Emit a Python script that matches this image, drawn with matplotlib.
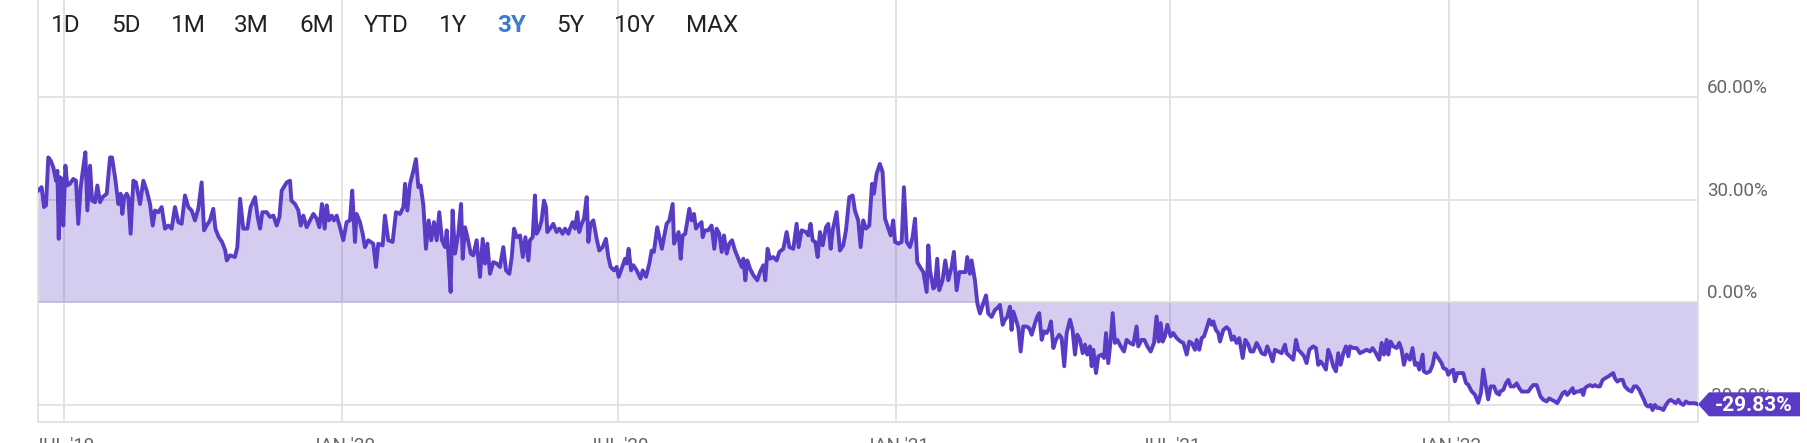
import matplotlib
matplotlib.use("Agg")
import matplotlib.pyplot as plt
import matplotlib.dates as mdates
from matplotlib.patches import Polygon
from matplotlib.transforms import IdentityTransform
import numpy as np
import datetime as dt

plt.rcParams['font.family'] = ['Roboto', 'DejaVu Sans']

# 3Y total return (days counted from 2019-06-14)
start = dt.date(2019, 6, 14)

days = [
    # Jun 2019 - Apr 2020
    0.0, 2.4, 4.0, 5.3, 6.8, 8.4, 10.1, 11.9, 12.8, 13.7,
    14.5, 15.9, 16.7, 18.1, 19.4, 21.1, 23.3, 25.1, 26.6, 28.2,
    29.9, 31.3, 32.6, 34.4, 35.7, 37.7, 39.2, 41.0, 42.7, 45.4,
    47.6, 48.9, 50.9, 53.1, 54.6, 55.7, 57.0, 58.6, 59.7, 61.2,
    63.0, 64.7, 67.4, 69.6, 71.8, 74.0, 75.8, 77.3, 79.5, 81.7,
    83.9, 86.1, 88.3, 90.5, 92.7, 94.9, 97.1, 99.3, 101.5, 103.7,
    105.9, 108.1, 109.7, 111.4, 113.6, 115.8, 117.2, 119.4, 121.6, 123.7,
    124.7, 126.8, 130.1, 131.7, 133.5, 135.6, 138.3, 140.5, 143.4, 145.1,
    146.7, 148.2, 151.1, 153.3, 155.5, 157.7, 159.5, 161.0, 164.3, 166.5,
    167.4, 169.8, 172.0, 173.6, 175.3, 177.5, 179.7, 181.9, 184.1, 185.9,
    187.6, 189.4, 190.7, 192.2, 194.0, 195.5, 197.3, 199.5, 201.7, 203.9,
    206.1, 207.6, 209.4, 210.5, 212.7, 214.5, 216.0, 218.2, 221.5, 223.3,
    224.8, 227.7, 229.2, 231.4, 234.3, 236.5, 239.2, 241.4, 242.5, 244.0,
    245.8, 248.0, 249.7, 251.3, 252.8, 254.6, 256.3, 258.1, 259.8, 261.6,
    263.4, 265.1, 266.9, 268.9, 270.0, 271.1, 272.6, 273.9, 275.5, 277.7,
    279.5, 280.6, 282.1, 283.7, 285.9, 287.6, 289.8, 292.0, 293.8, 295.3,
    296.9, 298.6, 300.8, 303.0, 305.2, 307.4, 309.2, 311.4, 313.0, 314.5,
    316.3, 318.5, 320.3, 322.0, 324.0,
    # May 2020 - Mar 2021
    325.0, 326.8, 328.3, 329.4, 331.2, 332.7, 334.3, 335.6, 336.5, 338.3,
    340.4, 342.6, 344.4, 346.6, 348.2, 350.4, 351.5, 353.2, 354.8, 356.3,
    357.6, 359.2, 360.7, 362.5, 363.6, 365.1, 366.9, 369.1, 370.8, 373.0,
    375.2, 376.8, 378.3, 380.5, 382.3, 383.6, 385.6, 387.8, 388.9, 390.2,
    391.8, 393.3, 395.5, 398.1, 399.5, 401.7, 403.9, 405.4, 406.9, 409.1,
    410.5, 412.2, 413.6, 415.3, 417.1, 419.3, 420.2, 421.9, 423.2, 424.6,
    425.9, 427.6, 430.3, 431.8, 433.4, 434.7, 436.2, 438.4, 439.1, 440.6,
    442.8, 445.0, 446.8, 448.3, 450.1, 451.7, 453.2, 455.0, 456.7, 458.5,
    460.5, 462.7, 464.9, 466.0, 467.3, 468.6, 470.4, 472.6, 475.2, 477.0,
    479.2, 480.5, 482.0, 483.6, 485.8, 488.0, 489.8, 492.4, 494.6, 496.4,
    499.0, 501.2, 502.5, 504.5, 507.4, 508.9, 510.4, 511.8, 513.5, 515.1,
    516.6, 518.4, 520.6, 522.1, 523.7, 525.0, 527.6, 529.8, 532.0, 533.8,
    536.0, 538.2, 539.7, 541.9, 543.5, 545.2, 547.0, 549.2, 551.0, 552.3,
    554.0, 556.2, 558.0, 559.6, 561.8, 563.3, 565.0, 566.2, 568.4, 570.6,
    572.1, 573.9, 576.1, 577.8, 579.4, 580.9, 582.7, 584.9, 587.1, 588.2,
    589.3, 591.5, 592.6, 594.1, 595.4, 597.6, 599.4, 601.4, 603.6, 605.1,
    606.9, 608.7, 611.3, 612.8, 613.9, 615.7, 616.8, 619.0, 620.6, 622.3,
    624.5, 626.3, 627.8, 630.0, 632.2, 634.4,
    # Mar 2021 - Feb 2022
    635.5, 637.3, 638.8, 640.4, 642.1, 643.2, 644.3, 646.1, 647.7, 649.2,
    650.9, 653.2, 654.9, 656.5, 658.7, 660.2, 661.5, 663.1, 664.6, 666.4,
    668.1, 669.2, 670.8, 672.5, 674.7, 676.3, 678.0, 679.6, 681.8, 683.5,
    685.1, 686.6, 688.4, 690.2, 691.7, 693.2, 695.0, 696.1, 697.2, 699.0,
    700.5, 702.7, 704.3, 705.6, 707.1, 708.7, 710.0, 711.5, 713.1, 715.3,
    717.5, 719.2, 721.4, 723.6, 725.8, 726.9, 729.1, 730.9, 732.9, 735.1,
    737.3, 739.0, 740.4, 741.7, 743.0, 744.5, 746.1, 748.3, 750.0, 752.3,
    754.9, 756.7, 758.9, 760.6, 762.2, 764.4, 765.5, 767.2, 768.8, 770.3,
    772.1, 773.8, 775.4, 776.5, 778.2, 779.8, 780.9, 783.1, 785.3, 787.0,
    788.6, 790.1, 791.9, 793.6, 795.9, 797.6, 799.6, 801.1, 802.9, 805.1,
    806.9, 808.4, 810.6, 812.1, 813.9, 815.7, 817.2, 819.4, 821.6, 823.8,
    824.9, 827.1, 829.3, 831.1, 832.6, 834.8, 836.4, 838.1, 839.9, 842.5,
    844.3, 845.8, 847.4, 849.1, 850.9, 852.4, 854.0, 855.7, 857.5, 859.0,
    860.6, 862.4, 864.1, 865.7, 866.8, 869.0, 871.2, 873.4, 875.6, 877.8,
    880.0, 881.7, 883.9, 886.1, 887.7, 889.2, 891.0, 892.1, 893.6, 895.4,
    897.6, 899.3, 900.9, 902.4, 904.2, 906.4, 908.1, 909.7, 911.2, 912.6,
    914.8, 915.6, 917.4, 919.6, 921.4, 922.9, 925.1, 927.3, 928.4, 930.6,
    931.7, 933.3, 935.0, 936.1, 937.7, 939.9, 941.6, 943.4, 944.9, 947.1,
    949.3, 951.5, 953.3, 954.8, 956.6, 958.1, 959.7, 961.9, 963.6, 965.4,
    # Feb 2022 - Jun 2022
    965.9, 968.1, 969.8, 971.4, 972.9, 975.1, 976.9, 978.6, 980.2, 982.4,
    984.6, 986.1, 987.9, 990.1, 991.2, 992.7, 994.5, 996.7, 998.4, 1000.0,
    1002.2, 1003.7, 1005.5, 1007.3, 1008.8, 1010.3, 1012.1, 1013.9, 1014.7, 1016.5,
    1018.3, 1019.8, 1020.9, 1022.0, 1023.5, 1025.3, 1027.1, 1028.6, 1030.1, 1031.9,
    1033.7, 1035.4, 1037.4, 1039.0, 1040.7, 1041.8, 1043.4, 1045.1, 1046.9, 1048.4,
    1050.6, 1052.8, 1054.4, 1056.1, 1057.9, 1059.4, 1061.0, 1062.3, 1063.8, 1065.4,
    1066.7, 1068.2, 1069.8, 1071.5, 1073.8, 1075.5, 1077.1, 1078.6, 1080.4, 1082.1,
    1083.7, 1085.2, 1087.0, 1088.7, 1090.5, 1092.5, 1094.7, 1096.7,
]

pct = [
    32.6, 33.6, 27.8, 28.3, 42.3, 41.4, 39.4, 35.5, 38.4, 18.5,
    36.5, 36.0, 22.4, 39.9, 34.1, 34.6, 36.0, 35.5, 22.9, 33.6,
    39.4, 43.8, 26.8, 39.9, 29.7, 29.2, 34.1, 29.2, 30.7, 31.7,
    42.3, 42.3, 36.5, 28.7, 31.7, 25.8, 30.7, 31.7, 30.7, 20.0,
    35.5, 35.0, 28.7, 35.5, 32.6, 28.7, 22.4, 26.8, 26.3, 27.8,
    21.5, 22.4, 21.5, 27.8, 23.4, 22.9, 31.2, 27.8, 26.8, 23.9,
    27.3, 35.0, 21.0, 22.4, 23.9, 27.3, 21.5, 19.0, 17.6, 15.1,
    12.2, 13.7, 13.2, 16.1, 30.2, 21.5, 21.5, 27.8, 30.7, 24.9,
    21.5, 26.3, 26.3, 24.9, 25.3, 22.4, 24.9, 32.6, 35.0, 35.5,
    29.7, 28.7, 26.8, 22.4, 25.3, 21.9, 23.9, 25.8, 24.4, 21.9,
    28.7, 21.5, 28.3, 23.9, 25.3, 23.9, 25.3, 21.9, 18.1, 23.4,
    23.9, 32.6, 17.6, 25.8, 23.4, 20.0, 16.1, 18.1, 17.1, 10.3,
    17.1, 16.6, 25.3, 18.1, 17.6, 26.3, 25.8, 27.8, 34.6, 26.8,
    34.6, 38.4, 41.8, 33.6, 34.1, 28.3, 15.6, 23.9, 18.1, 23.4,
    18.1, 26.3, 18.1, 16.1, 21.0, 14.2, 3.0, 26.8, 14.2, 20.0,
    28.7, 12.7, 21.9, 19.0, 14.2, 13.7, 18.1, 7.4, 18.5, 11.3,
    17.1, 8.3, 11.7, 11.3, 10.3, 16.1, 9.3, 8.3, 13.2, 21.5,
    19.0, 19.5, 13.2, 19.0, 12.2,
    18.1, 19.0, 31.2, 20.0, 21.5, 23.9, 29.7, 27.8, 20.5, 21.5,
    22.9, 20.5, 21.5, 20.0, 21.5, 20.0, 21.5, 23.4, 21.5, 26.3,
    20.5, 22.9, 24.4, 30.7, 17.6, 22.9, 23.9, 18.5, 15.1, 16.1,
    18.5, 13.2, 10.3, 9.3, 10.3, 7.4, 9.8, 12.7, 11.3, 15.6,
    9.3, 10.8, 9.3, 6.9, 9.3, 7.4, 11.3, 15.1, 14.7, 21.9,
    19.0, 15.6, 19.0, 22.9, 23.9, 28.7, 17.1, 19.0, 20.5, 12.7,
    19.5, 20.0, 27.3, 23.9, 25.8, 21.5, 22.4, 23.4, 19.0, 21.0,
    21.0, 22.4, 15.6, 21.5, 20.0, 14.7, 19.5, 14.2, 17.1, 18.1,
    15.1, 12.7, 10.3, 12.7, 6.4, 12.2, 9.8, 7.9, 6.4, 8.8,
    10.8, 6.4, 15.6, 12.7, 13.2, 12.2, 14.7, 15.6, 20.5, 16.1,
    15.6, 22.9, 16.1, 21.0, 20.5, 19.5, 22.9, 18.1, 17.6, 13.2,
    20.5, 16.6, 21.9, 22.9, 15.6, 21.0, 26.3, 15.1, 16.6, 21.0,
    30.7, 31.2, 26.8, 23.9, 16.1, 23.9, 21.5, 22.4, 34.6, 31.7,
    37.5, 40.4, 38.0, 24.4, 21.5, 19.5, 23.9, 17.6, 17.1, 17.6,
    33.6, 17.6, 16.1, 19.0, 24.4, 11.7, 10.3, 8.8, 3.0, 16.6,
    9.3, 4.0, 4.5, 12.7, 3.5, 6.4, 12.2, 6.4, 10.3, 14.7,
    3.5, 8.8, 8.8, 8.8, 13.2, 8.3, 12.2, 6.4, -0.4, -3.3,
    -0.4, 2.0, -3.3, -4.3, -2.3, -1.4,
    -0.8, -6.6, -5.1, -4.2, -1.3, -8.1, -2.7, -5.1, -7.6, -14.4,
    -7.1, -7.1, -7.6, -9.5, -6.1, -4.2, -3.2, -11.0, -8.5, -9.0,
    -7.6, -5.6, -13.4, -11.0, -9.5, -10.5, -18.7, -9.0, -5.1, -8.1,
    -15.3, -9.5, -11.0, -14.9, -12.4, -15.3, -12.9, -18.7, -13.9, -20.7,
    -15.8, -15.3, -16.3, -9.0, -17.8, -11.0, -3.2, -11.9, -11.0, -12.9,
    -14.4, -11.0, -11.9, -12.4, -7.1, -12.9, -11.0, -11.0, -12.9, -14.4,
    -11.9, -4.2, -11.5, -6.1, -11.5, -10.0, -6.6, -10.0, -9.0, -10.5,
    -11.5, -11.9, -15.3, -11.5, -11.9, -13.9, -11.0, -13.9, -10.5, -10.0,
    -7.6, -5.1, -6.6, -5.6, -8.1, -9.0, -11.5, -8.1, -7.3, -8.1,
    -11.0, -10.0, -11.9, -10.5, -16.3, -11.0, -12.4, -14.4, -14.4, -11.9,
    -13.4, -14.9, -15.3, -12.9, -14.9, -17.3, -13.9, -14.4, -14.9, -12.4,
    -14.9, -15.8, -16.8, -11.0, -13.9, -14.9, -15.8, -17.8, -13.9, -12.9,
    -13.4, -18.3, -17.3, -18.3, -19.7, -13.9, -15.8, -18.7, -20.2, -14.9,
    -18.3, -14.9, -12.9, -15.8, -12.9, -13.4, -13.4, -14.9, -14.4, -13.9,
    -14.4, -13.4, -14.9, -16.8, -11.9, -15.3, -11.0, -15.3, -11.5, -12.9,
    -13.4, -11.9, -13.9, -18.3, -15.3, -16.8, -13.4, -18.3, -17.8, -19.7,
    -15.3, -20.2, -20.7, -20.2, -18.3, -14.9, -16.3, -17.8, -19.2, -19.7,
    -21.2, -20.2, -19.7, -23.1, -20.7, -20.7, -20.7, -23.6, -24.1, -26.0,
    -27.0, -29.4, -26.5, -19.7, -24.6, -28.4, -24.6, -24.6, -26.5, -27.0,
    -26.1, -25.6, -23.7, -22.7, -24.6, -24.6, -23.7, -25.1, -26.1, -26.1,
    -26.1, -25.1, -24.2, -24.2, -25.6, -27.6, -28.5, -29.0, -28.1, -28.5,
    -29.0, -29.5, -28.1, -26.6, -26.1, -27.1, -26.1, -25.1, -26.6, -26.1,
    -26.1, -25.6, -27.1, -25.1, -24.6, -24.2, -24.6, -24.2, -24.6, -24.6,
    -22.7, -22.2, -21.7, -21.2, -20.7, -22.2, -23.2, -22.7, -22.7, -24.6,
    -25.6, -26.1, -24.6, -24.6, -25.6, -27.1, -28.5, -30.0, -30.5, -30.0,
    -31.5, -30.0, -30.9, -30.9, -31.5, -30.0, -29.0, -28.5, -29.0, -29.5,
    -28.5, -29.5, -30.0, -29.0, -29.5, -29.5, -29.5, -29.83,
]

last_label = "-29.83%"
periods = ["1D", "5D", "1M", "3M", "6M", "YTD", "1Y", "3Y", "5Y", "10Y", "MAX"]
period_x = [66, 126, 188, 251, 317, 386, 453, 512, 570, 635, 712]
active = "3Y"
y_ticks = [-30, 0, 30, 60]
x_tick_dates = [dt.date(2019, 7, 1), dt.date(2020, 1, 1), dt.date(2020, 7, 1),
                dt.date(2021, 1, 1), dt.date(2021, 7, 1), dt.date(2022, 1, 1)]
x_tick_labels = ["JUL '19", "JAN '20", "JUL '20", "JAN '21", "JUL '21", "JAN '22"]

line_color = "#5a3bc6"
grid_color = "#e3e3e3"

x = mdates.date2num(start) + np.array(days)
y = np.array(pct)

W, H = 1808, 443
fig = plt.figure(figsize=(W / 100, H / 100), dpi=100)
ax = fig.add_axes([38 / W, 21 / H, 1660 / W, 422 / H])
ax.set_xlim(x[0], x[-1])
ax.set_ylim(-35, 88.3)

ax.fill_between(x, y, 0, color=line_color, alpha=0.25, lw=0, zorder=2)
ax.plot(x, y, color=line_color, lw=2.8, zorder=3, solid_joinstyle="round")

ax.set_axisbelow(True)
ax.grid(True, color=grid_color, lw=1.4)
ax.yaxis.tick_right()
ax.set_yticks(y_ticks)
ax.set_yticklabels([f"{v:.2f}%" for v in y_ticks], va="bottom")
ax.set_xticks(mdates.date2num(x_tick_dates))
ax.set_xticklabels(x_tick_labels)
ax.tick_params(axis="y", length=0, pad=6.5, labelsize=13.5, labelcolor="#666666")
ax.tick_params(axis="x", length=0, pad=10.5, labelsize=13.5, labelcolor="#666666")
ax.spines["top"].set_visible(False)
for s in ["left", "right", "bottom"]:
    ax.spines[s].set_color(grid_color)
    ax.spines[s].set_linewidth(1.4)

# range buttons
for lab, px in zip(periods, period_x):
    is_on = lab == active
    fig.text(px / W, (H - 32) / H, lab, ha="center", va="baseline", fontsize=17.5,
             color="#3d7cc9" if is_on else "#222222",
             fontweight="bold" if is_on else "normal")

# last value badge
tx, ty = ax.transData.transform((x[-1], y[-1]))
badge = Polygon([(tx, ty), (tx + 11, ty + 12), (tx + 102, ty + 12),
                 (tx + 102, ty - 12), (tx + 11, ty - 12)], closed=True,
                facecolor=line_color, edgecolor="none",
                transform=IdentityTransform(), zorder=5)
fig.add_artist(badge)
fig.text(tx + 56, ty - 7, last_label, transform=IdentityTransform(),
         ha="center", va="baseline", fontsize=15, fontweight="bold",
         color="white", zorder=6)

fig.savefig("out.png", dpi=100)
